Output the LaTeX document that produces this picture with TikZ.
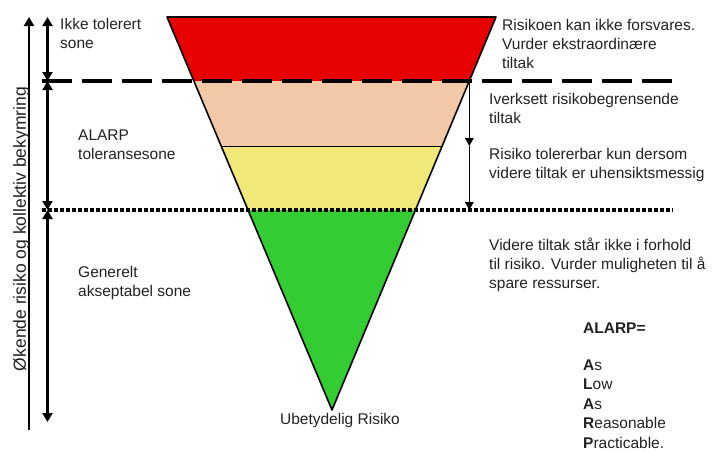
\documentclass[tikz,border=0pt]{standalone}
\usepackage{fontspec}
\setmainfont{Liberation Sans}
\usetikzlibrary{arrows.meta}
\definecolor{redband}{HTML}{E60000}
\definecolor{peachband}{HTML}{F2C8A6}
\definecolor{yellowband}{HTML}{F0E878}
\definecolor{greenband}{HTML}{33CC33}
\definecolor{textgrey}{HTML}{222222}
\begin{document}
\begin{tikzpicture}[x=1pt,y=-1pt,
  txt/.style={font=\fontsize{15.5}{19}\selectfont, text=textgrey, inner sep=0pt, align=left, anchor=base west},
  axisline/.style={line width=2.2pt, -{Triangle[length=9pt,width=10pt]}},
  zonearrow/.style={line width=2.2pt, {Triangle[length=9pt,width=10pt]}-{Triangle[length=9pt,width=10pt]}},
  rightarrow/.style={line width=1.6pt, -{Triangle[length=8pt,width=8.5pt]}},
  outline/.style={draw=black, line width=1.6pt, line join=round},
  dashline/.style={line width=3.5pt, dash pattern=on 30pt off 10pt},
  dotline/.style={line width=3.5pt, dash pattern=on 4pt off 2pt}
]
\useasboundingbox (0,0) rectangle (713,451);

% triangle corners
\coordinate (TL) at (167,17);
\coordinate (TR) at (496,17);
\coordinate (L1) at (193.9,81);
\coordinate (R1) at (469.3,81);
\coordinate (L2) at (221.2,146);
\coordinate (R2) at (442.2,146);
\coordinate (L3) at (248,210);
\coordinate (R3) at (415.5,210);
\coordinate (apex) at (332,410);

\fill[redband] (TL) -- (TR) -- (R1) -- (L1) -- cycle;
\fill[peachband] (L1) -- (R1) -- (R2) -- (L2) -- cycle;
\fill[yellowband] (L2) -- (R2) -- (R3) -- (L3) -- cycle;
\fill[greenband] (L3) -- (R3) -- (apex) -- cycle;
\draw[line width=0.8pt] (L2) -- (R2);
\draw[outline] (TL) -- (TR) -- (apex) -- cycle;

% separating lines
\coordinate (dashL) at (42,81);
\coordinate (dashR) at (673,81);
\coordinate (dotL) at (42,210);
\coordinate (dotR) at (673,210);
\draw[dashline] (dashL) -- (dashR);
\draw[dotline] (dotL) -- (dotR);

% outer axis
\coordinate (axB) at (29,430);
\coordinate (axT) at (29,17);
\draw[axisline] (axB) -- (axT);
\node[font=\fontsize{17.5}{20}\selectfont, text=textgrey, inner sep=0pt, rotate=90, anchor=base] (axlabel) at (26,229) {Økende risiko og kollektiv bekymring};

% zone arrows
\coordinate (z0) at (47.5,17);
\coordinate (z1) at (47.5,81);
\coordinate (z2) at (47.5,210);
\coordinate (z3) at (47.5,422);
\draw[zonearrow] (z1) -- (z0);
\draw[zonearrow] (z1) -- (z2);
\draw[zonearrow] (z2) -- (z3);

% right arrow
\coordinate (ra0) at (469.3,81);
\coordinate (ra1) at (469.3,146);
\coordinate (ra2) at (469.3,210);
\draw[rightarrow] (ra0) -- (ra1);
\draw[rightarrow] (ra1) -- (ra2);

% left labels (anchored at the baseline of the last line)
\node[txt] (ikke) at (60,48) {Ikke tolerert\\sone};
\node[txt] (alarpzone) at (78,159) {ALARP\\toleransesone};
\node[txt] (generelt) at (78,296) {Generelt\\akseptabel sone};

% right labels
\node[txt] (forsvar) at (502,68) {Risikoen kan ikke forsvares.\\Vurder ekstraordinære\\tiltak};
\node[txt] (iverksett) at (489,123) {Iverksett risikobegrensende\\tiltak};
\node[txt] (tolererbar) at (489,178) {Risiko tolererbar kun dersom\\videre tiltak er uhensiktsmessig};
\node[txt] (videre) at (489,288) {Videre tiltak står ikke i forhold\\til risiko. Vurder muligheten til å\\spare ressurser.};

\node[txt, font=\fontsize{15.5}{19}\selectfont\bfseries] (alarpeq) at (583,333) {ALARP=};
\node[txt, font=\fontsize{15.5}{19.4}\selectfont] (alarplist) at (583,448) {\textbf{A}s\\\textbf{L}ow\\\textbf{A}s\\\textbf{R}easonable\\\textbf{P}racticable.};

\node[font=\fontsize{15.5}{19}\selectfont, text=textgrey, inner sep=0pt, anchor=base] (ubetydelig) at (340,424) {Ubetydelig Risiko};
\end{tikzpicture}
\end{document}
